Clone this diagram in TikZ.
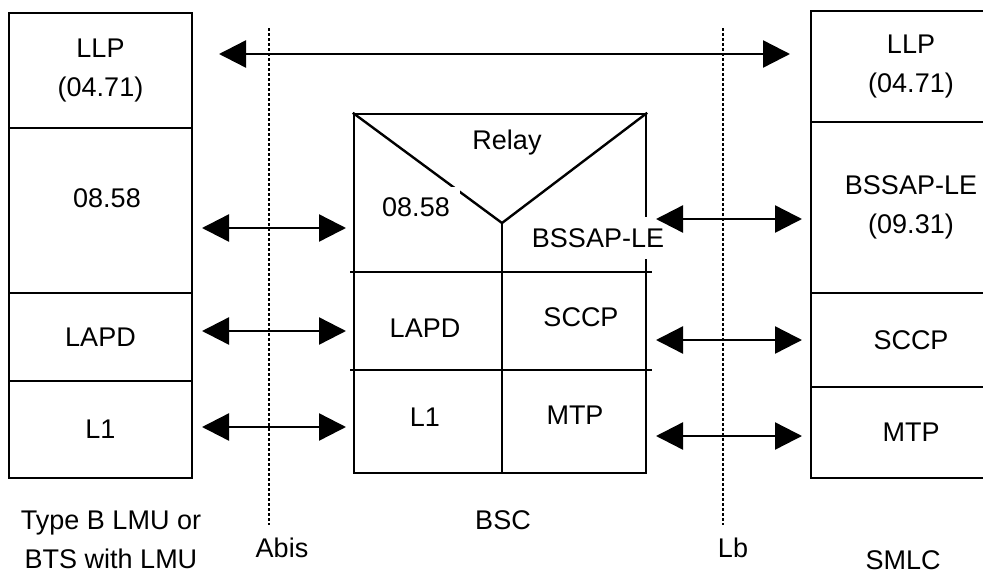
\documentclass[tikz,border=0pt]{standalone}
\usepackage{fontspec}
\setmainfont{Liberation Sans}
\usetikzlibrary{arrows.meta}

\begin{document}
\begin{tikzpicture}[x=1pt, y=-1pt,
    every node/.style={font=\fontsize{27}{39}\selectfont, align=center},
    layer/.style={draw, line width=2.4pt, inner sep=0pt},
    >={Triangle[length=27pt,width=27pt]},
    link/.style={<->, line width=2.4pt},
    iface/.style={line width=2.8pt, dash pattern=on 2.5pt off 2.5pt},
    cover/.style={fill=white, inner sep=10pt}]
    \useasboundingbox (0,0) rectangle (983,573);

    % Type B LMU / BTS stack
    \node[layer, minimum width=183pt, minimum height=115pt] (lllp) at (100.5,70.5) {LLP\\(04.71)};
    \node[layer, minimum width=183pt, minimum height=165pt, label={[xshift=6.5pt, yshift=12.5pt]center:08.58}] (l858) at (100.5,210.5) {};
    \node[layer, minimum width=183pt, minimum height=88pt] (llapd) at (100.5,337) {LAPD};
    \node[layer, minimum width=183pt, minimum height=97pt] (ll1) at (100.5,429.5) {L1};

    % SMLC stack
    \node[layer, minimum width=200pt, minimum height=111pt] (rllp) at (911,66.5) {LLP\\(04.71)};
    \node[layer, minimum width=200pt, minimum height=171pt] (rbssap) at (911,207.5) {BSSAP-LE\\(09.31)};
    \node[layer, minimum width=200pt, minimum height=94pt] (rsccp) at (911,340) {SCCP};
    \node[layer, minimum width=200pt, minimum height=91pt] (rmtp) at (911,432.5) {MTP};

    % BSC
    \node[layer, minimum width=292pt, minimum height=359pt] (bsc) at (500,293.5) {};
    \coordinate (vtx) at (502,223);
    \draw[line width=2.4pt] (bsc.north west) -- (vtx) -- (bsc.north east);
    \draw[line width=2.4pt] (vtx) -- (vtx |- bsc.south);
    \draw[line width=2.4pt] (350,272) -- (652,272);
    \draw[line width=2.4pt] (350,370) -- (652,370);
    \node (relay) at (507,143) {Relay};
    \node[cover] (b858) at (416,207) {08.58};
    \node[cover, inner xsep=2pt, inner ysep=11pt] (bbssap) at (598,238) {BSSAP-LE};
    \node (blapd) at (425,328) {LAPD};
    \node (bsccp) at (581,317) {SCCP};
    \node (bl1) at (425,417) {L1};
    \node (bmtp) at (575,415) {MTP};

    % interfaces
    \coordinate (abistop) at (269,28);
    \coordinate (abisbot) at (269,525);
    \coordinate (lbtop) at (723,28);
    \coordinate (lbbot) at (723,525);
    \draw[iface] (abistop) -- (abisbot);
    \draw[iface] (lbtop) -- (lbbot);

    % peer links
    \coordinate (llpl) at (219,54);
    \coordinate (llpr) at (790,54);
    \draw[link] (llpl) -- (llpr);
    \foreach \n/\y in {sig/228, lapd/331, phy/427} {
        \coordinate (\n abl) at (202,\y);
        \coordinate (\n abr) at (346,\y);
        \draw[link] (\n abl) -- (\n abr);
    }
    \foreach \n/\y in {bssap/219, sccp/340, mtp/436} {
        \coordinate (\n lbl) at (656,\y);
        \coordinate (\n lbr) at (802,\y);
        \draw[link] (\n lbl) -- (\n lbr);
    }

    % labels
    \node (lmu) at (111,540) {Type B LMU or\\BTS with LMU};
    \node (abis) at (282,548) {Abis};
    \node (bsclbl) at (503,520) {BSC};
    \node (lb) at (733,548) {Lb};
    \node (smlc) at (903,560) {SMLC};
\end{tikzpicture}
\end{document}
